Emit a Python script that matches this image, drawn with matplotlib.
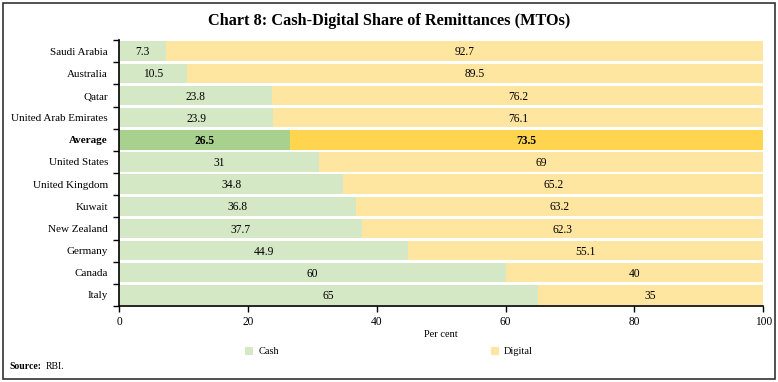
import matplotlib
matplotlib.use("Agg")
import matplotlib.pyplot as plt
from matplotlib.patches import Rectangle
import numpy as np

categories = ["Saudi Arabia", "Australia", "Qatar", "United Arab Emirates", "Average",
              "United States", "United Kingdom", "Kuwait", "New Zealand", "Germany",
              "Canada", "Italy"]
cash = [7.3, 10.5, 23.8, 23.9, 26.5, 31, 34.8, 36.8, 37.7, 44.9, 60, 65]
digital = [92.7, 89.5, 76.2, 76.1, 73.5, 69, 65.2, 63.2, 62.3, 55.1, 40, 35]
cash_labels = ["7.3", "10.5", "23.8", "23.9", "26.5", "31", "34.8", "36.8", "37.7", "44.9", "60", "65"]
digital_labels = ["92.7", "89.5", "76.2", "76.1", "73.5", "69", "65.2", "63.2", "62.3", "55.1", "40", "35"]
xticks = [0, 20, 40, 60, 80, 100]

plt.rcParams['font.family'] = ['Liberation Serif', 'DejaVu Serif']

C_CASH = "#D5E8C6"
C_DIG = "#FFE6A0"
C_CASH_AVG = "#A9D18E"
C_DIG_AVG = "#FFD54F"

fig = plt.figure(figsize=(7.78, 3.82), dpi=100)
fig.patches.append(Rectangle((0.004, 0.008), 0.992, 0.984, transform=fig.transFigure,
                             fill=False, edgecolor="#333333", linewidth=1.2))
ax = fig.add_axes([0.153, 0.199, 0.828, 0.696])

y = np.arange(len(categories))
cc = [C_CASH_AVG if c == "Average" else C_CASH for c in categories]
dc = [C_DIG_AVG if c == "Average" else C_DIG for c in categories]
ax.barh(y, cash, height=0.88, color=cc, label="Cash")
ax.barh(y, digital, left=cash, height=0.88, color=dc, label="Digital")

for i, c in enumerate(categories):
    w = 'bold' if c == "Average" else 'normal'
    ax.text(cash[i] / 2, y[i] + 0.05, cash_labels[i], ha='center', va='center', fontsize=8.3, fontweight=w)
    ax.text(cash[i] + digital[i] / 2, y[i] + 0.05, digital_labels[i], ha='center', va='center',
            fontsize=8.3, fontweight=w)

ax.set_ylim(len(categories) - 0.5, -0.5)
ax.set_xlim(0, 100)
ax.set_yticks(y)
ax.set_yticklabels(categories, fontsize=8)
for lbl in ax.get_yticklabels():
    if lbl.get_text() == "Average":
        lbl.set_fontweight('bold')
ax.tick_params(axis='y', which='major', length=0, pad=8)
ax.set_yticks(np.arange(-0.5, len(categories), 1), minor=True)
ax.tick_params(axis='y', which='minor', length=4, width=1, direction='out')
ax.set_xticks(xticks)
ax.set_xticklabels([str(t) for t in xticks], fontsize=8.3)
ax.tick_params(axis='x', length=4, width=1, direction='out', pad=3)
ax.spines['top'].set_visible(False)
ax.spines['right'].set_visible(False)
ax.spines['left'].set_linewidth(1.2)
ax.spines['bottom'].set_linewidth(1.2)
ax.set_xlabel("Per cent", fontsize=7.5, labelpad=2)

fig.text(0.5, 0.945, "Chart 8: Cash-Digital Share of Remittances (MTOs)", ha='center', va='center',
         fontsize=11.7, fontweight='bold')
leg = fig.legend(loc='center', bbox_to_anchor=(0.5, 0.08), ncol=2, frameon=False, fontsize=7.5,
                 handlelength=0.8, handleheight=0.8, columnspacing=20.3, handletextpad=0.5)
fig.text(0.012, 0.04, "Source:", fontsize=7, fontweight='bold', va='center')
fig.text(0.059, 0.04, "RBI.", fontsize=7, va='center')

fig.savefig("out.png", dpi=100)
